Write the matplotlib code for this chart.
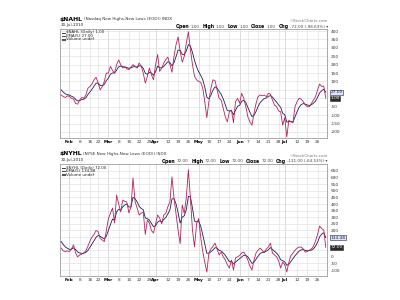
import matplotlib
matplotlib.use("Agg")
import matplotlib.pyplot as plt
from matplotlib.lines import Line2D
import numpy as np
import pandas as pd

W, H = 400, 300

# ---------------- data ----------------
holidays = ["2010-02-15", "2010-04-02", "2010-05-31", "2010-07-05"]
trading_days = pd.bdate_range("2010-01-26", "2010-07-30")
trading_days = trading_days[~trading_days.isin(pd.to_datetime(holidays))]

tick_dates = ["2010-02-01", "2010-02-08", "2010-02-16", "2010-02-22",
              "2010-03-01", "2010-03-08", "2010-03-15", "2010-03-22", "2010-03-29",
              "2010-04-01", "2010-04-12", "2010-04-19", "2010-04-26",
              "2010-05-03", "2010-05-10", "2010-05-17", "2010-05-24",
              "2010-06-01", "2010-06-07", "2010-06-14", "2010-06-21", "2010-06-28",
              "2010-07-01", "2010-07-12", "2010-07-19", "2010-07-26"]
month_starts = ["2010-02-01", "2010-03-01", "2010-04-01", "2010-05-03",
                "2010-06-01", "2010-07-01"]

nahl_daily = [20, 10, 5, 15,
              10, 0, -5, -30, -35, -10, 5, 0, 20, 60, 70, 85, 110, 125, 90, 50, 70, 100, 150,
              150, 190, 165, 150, 200, 228, 200, 180, 185, 175, 170, 185, 200, 190, 180, 210,
              190, 150, 90, 130, 180, 140, 110,
              200, 260, 160, 180, 210, 230, 245, 200, 155, 250, 320, 365, 280, 215, 250, 330,
              395, 290, 200, 130, 110,
              100, 95, 60, -20, -115, -20, 60, 110, 105, 50, 0, -10, -60, -110, -140, -80, -70,
              -145, -20, 0,
              -30, 30, 0, -50, -110, -140, -160, -90, -30, 10, 20, 15, 20, 10, 30, 25, -10, -40,
              -50, -75, -80, -160,
              -115, -230, -130, -140, -145, -50, -20, 0, -5, -20, -40, -50, -50, -30, -10, 10,
              50, 85, 70, 73, 1]
nahl_ema = [50, 36.7, 26.1, 22.4,
            18.3, 12.2, 6.5, -5.7, -15.5, -13.7, -7.5, -5.0, 3.3, 22.2, 38.1, 53.7, 72.5, 90.0,
            90.0, 76.7, 74.5, 83.0, 105.3,
            120.2, 143.5, 150.7, 150.5, 167.0, 187.3, 191.5, 187.7, 186.8, 182.9, 178.6, 180.7,
            187.1, 188.1, 185.4, 193.6, 192.4, 178.3, 148.9, 142.6, 155.1, 150.1, 136.7,
            157.8, 191.9, 181.3, 180.9, 190.6, 203.7, 217.5, 211.7, 192.8, 211.9, 247.9, 286.9,
            284.6, 261.4, 257.6, 281.7, 319.5, 309.7, 273.1, 225.4, 186.9,
            157.9, 136.9, 111.3, 67.5, 6.7, -2.2, 18.5, 49.0, 67.7, 61.8, 41.2, 24.1, -3.9,
            -39.3, -72.9, -75.3, -73.5, -97.3, -71.5, -47.7,
            -41.8, -17.9, -11.9, -24.6, -53.1, -82.1, -108.1, -102.1, -78.1, -48.7, -25.8,
            -12.2, -1.5, 2.3, 11.5, 16.0, 7.3, -8.4, -22.3, -39.9, -53.3, -88.9,
            -97.6, -141.7, -137.8, -138.5, -140.7, -110.5, -80.3, -53.5, -37.3, -31.5, -34.3,
            -39.5, -43.0, -38.7, -29.1, -16.1, 6.0, 32.3, 44.9, 54.3, 36.5]

nyhl_daily = [66, 45, 40, 45,
              40, 60, 90, 30, 0, 15, 20, 30, 45, 80, 120, 150, 170, 200, 190, 140, 127, 115, 200,
              290, 330, 370, 256, 468, 400, 340, 430, 420, 415, 332, 377, 597, 420, 370, 317,
              330, 340, 170, 279, 256, 200, 180,
              250, 317, 294, 250, 317, 330, 380, 415, 605, 445, 320, 200, 100, 392, 330, 450,
              660, 445, 200, 75, 250,
              290, 150, 40, -40, -115, 28, 60, 80, 104, 60, 14, 36, 0, -24, -60, -85, -24, -100,
              -9, 0,
              10, 30, 36, 10, -24, -70, -100, -24, 30, 51, 66, 50, 36, 60, 74, 104, 28, 15, 0,
              -30, -85, -40,
              -60, -115, -40, 10, 28, 50, 66, 74, 74, 60, 36, 40, 51, 60, 80, 120, 170, 233, 215,
              203, 72]
nyhl_ema = [116, 92.3, 74.9, 64.9,
            56.6, 57.7, 68.5, 55.7, 37.1, 29.7, 26.5, 27.7, 33.5, 49.0, 72.7, 98.5, 122.3, 148.2,
            162.1, 154.7, 145.5, 135.3, 156.9,
            201.3, 244.2, 286.1, 276.1, 340.1, 360.1, 353.4, 378.9, 392.6, 400.1, 377.4, 377.3,
            450.5, 440.3, 416.9, 383.6, 365.7, 357.1, 294.7, 289.5, 278.3, 252.2, 228.1,
            235.4, 262.6, 273.1, 265.4, 282.6, 298.4, 325.6, 355.4, 438.6, 440.7, 400.5, 333.7,
            255.8, 301.2, 310.8, 357.2, 458.1, 453.7, 369.1, 271.1, 264.1,
            272.7, 231.8, 167.9, 98.6, 27.4, 27.6, 38.4, 52.3, 69.5, 66.3, 48.9, 44.6, 29.7,
            11.8, -12.1, -36.4, -32.3, -54.9, -39.6, -26.4,
            -14.3, 0.5, 12.3, 11.5, -0.3, -23.5, -49.0, -40.7, -17.1, 5.6, 25.7, 33.8, 34.5,
            43.0, 53.3, 70.2, 56.1, 42.4, 28.3, 8.9, -22.4, -28.3,
            -38.9, -64.3, -56.2, -34.1, -13.4, 7.7, 27.1, 42.7, 53.1, 55.4, 48.9, 45.9, 47.6,
            51.7, 61.1, 80.7, 110.5, 151.3, 172.5, 182.7, 145.8]

nahl_yticks = list(range(-200, 401, 50))
nyhl_yticks = list(range(-100, 651, 50))

# ---------------- styling ----------------
DAILY_C = "#b3245c"
EMA_C = "#1e1e50"
GRID_C = "#e3e3e3"
MONTH_C = "#c4c4c4"
SPINE_C = "#9c9c9c"
FS = 3.1

plt.rcParams['font.family'] = ['DejaVu Sans']
fig = plt.figure(figsize=(W / 100, H / 100), dpi=100)
fig.patch.set_facecolor("white")
renderer = fig.canvas.get_renderer()


def fx(px):
    return px / W


def fy(py):
    return 1 - py / H


def row(x, y, pieces, ha="left"):
    objs = []
    for s, kw, gap in pieces:
        t = fig.text(0, fy(y), s, va="center", ha="left", **kw)
        objs.append((t, gap))
    widths = [t.get_window_extent(renderer).width + g for t, g in objs]
    cur = x if ha == "left" else x - sum(widths)
    for (t, g), w in zip(objs, widths):
        t.set_x(fx(cur))
        cur += w


x = np.arange(len(trading_days))
tick_idx = [trading_days.get_loc(pd.Timestamp(d)) for d in tick_dates]
month_idx = [trading_days.get_loc(pd.Timestamp(d)) for d in month_starts]
tick_labels = [pd.Timestamp(d).strftime("%b") if d in month_starts else str(pd.Timestamp(d).day)
               for d in tick_dates]


def panel(top_px, bot_px, ylim, yticks, daily, ema, sym, name, date_s,
          ohlc, chg, ema_s, daily_s):
    left, right = 60, 327
    ax = fig.add_axes([fx(left), fy(bot_px), (right - left) / W, (bot_px - top_px) / H])
    ax.set_xlim(-0.6, len(x) - 0.4)
    ax.set_ylim(*ylim)
    upp = (ylim[1] - ylim[0]) / (bot_px - top_px)   # data units per pixel

    def to_px(v):
        return top_px + (ylim[1] - v) / upp

    # value-box pixel positions (pushed apart so they stack)
    pe, pd_ = to_px(ema[-1]), to_px(daily[-1])
    if abs(pe - pd_) < 6:
        mid = (pe + pd_) / 2
        if pe <= pd_:
            pe, pd_ = mid - 3, mid + 3
        else:
            pe, pd_ = mid + 3, mid - 3

    ax.yaxis.tick_right()
    ax.set_yticks(yticks)
    ylabels = []
    for v in yticks:
        p = to_px(v)
        hidden = min(abs(p - pe), abs(p - pd_)) < 4.5
        ylabels.append("" if hidden else str(v))
    ax.set_yticklabels(ylabels, fontsize=FS, color="#333333")
    ax.tick_params(axis="y", length=0, pad=2.6)
    ax.set_xticks(tick_idx)
    ax.set_xticklabels(tick_labels, fontsize=FS, color="#333333")
    for lbl, d in zip(ax.get_xticklabels(), tick_dates):
        if d in month_starts:
            lbl.set_fontweight("bold")
            lbl.set_color("black")
    ax.tick_params(axis="x", length=0, pad=1.6)
    ax.grid(True, color=GRID_C, lw=0.5)
    ax.set_axisbelow(True)
    for mi in month_idx:
        ax.axvline(mi, color=MONTH_C, lw=0.6, zorder=0.5)
    for s in ax.spines.values():
        s.set_color(SPINE_C)
        s.set_linewidth(0.6)
    ax.plot(x, ema, color=EMA_C, lw=0.6, zorder=3)
    ax.plot(x, daily, color=DAILY_C, lw=0.6, zorder=4)

    # value boxes on right axis
    tr = ax.get_yaxis_transform()
    ax.text(1.012, ylim[1] - (pe - top_px) * upp, ema_s, transform=tr, fontsize=FS,
            color="#1e1e50", va="center", ha="left", clip_on=False, zorder=10,
            bbox=dict(boxstyle="square,pad=0.12", fc="#dfe4f0", ec=EMA_C, lw=0.4))
    ax.text(1.012, ylim[1] - (pd_ - top_px) * upp, daily_s, transform=tr, fontsize=FS,
            color="white", va="center", ha="left", clip_on=False, zorder=11,
            bbox=dict(boxstyle="square,pad=0.12", fc="#2a2a2a", ec="#2a2a2a", lw=0.4))

    # title rows
    row(59.5, top_px - 10, [(sym, dict(fontsize=4.4, fontweight="bold"), 1.2),
                            (name, dict(fontsize=3.0, color="#333333"), 0)])
    row(left + 0.5, top_px - 3.8, [(date_s, dict(fontsize=2.9, color="#222222"), 0)])
    row(328, top_px - 8, [("\u00a9StockCharts.com", dict(fontsize=2.9, color="#777777"), 0)],
        ha="right")
    pieces = []
    for lab, val in ohlc:
        pieces.append((lab, dict(fontsize=3.3, fontweight="bold"), 1.2))
        pieces.append((val, dict(fontsize=3.0, color="#444444"), 3.0))
    pieces.append(("Chg", dict(fontsize=3.3, fontweight="bold"), 1.2))
    pieces.append((chg + " \u25be", dict(fontsize=3.0, color="#444444"), 0))
    row(328, top_px - 2.5, pieces, ha="right")

    # legend
    ly = [top_px + 3.5, top_px + 7.0, top_px + 10.5]
    for yy, c in zip(ly[:2], ["#222222", EMA_C]):
        fig.add_artist(Line2D([fx(62), fx(65)], [fy(yy), fy(yy)], color=c, lw=0.6))
    fig.add_artist(Line2D([fx(62.5), fx(64.5)], [fy(ly[2]), fy(ly[2])], color="#555555", lw=1.5))
    row(66, ly[0], [(f"{sym} (Daily) {daily_s}", dict(fontsize=2.9, color="#222222"), 0)])
    row(66, ly[1], [(f"EMA(5) {ema_s}", dict(fontsize=2.9, color="#222222"), 0)])
    row(66, ly[2], [("Volume undef", dict(fontsize=2.9, color="#222222"), 0)])
    return ax


panel(29, 138, (-236, 412), nahl_yticks, nahl_daily, nahl_ema, "$NAHL",
      "(Nasdaq New Highs-New Lows (EOD)) INDX", "30-Jul-2010",
      [("Open", "1.00"), ("High", "1.00"), ("Low", "1.00"), ("Close", "1.00")],
      "-72.00 (-98.63%)", "27.00", "1.00")
panel(164, 276, (-145, 703), nyhl_yticks, nyhl_daily, nyhl_ema, "$NYHL",
      "(NYSE New Highs-New Lows (EOD)) INDX", "30-Jul-2010",
      [("Open", "72.00"), ("High", "72.00"), ("Low", "72.00"), ("Close", "72.00")],
      "-131.00 (-64.53%)", "134.48", "72.00")

fig.savefig("out.png", dpi=100, facecolor="white")
